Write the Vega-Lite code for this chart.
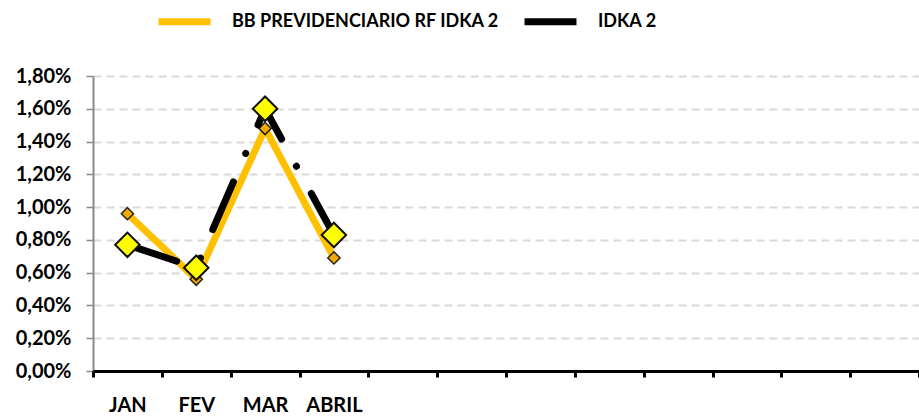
{
  "$schema": "https://vega.github.io/schema/vega-lite/v6.json",
  "autosize": "none",
  "width": 826,
  "height": 295,
  "padding": {"left": 93, "top": 76, "right": 0, "bottom": 46},
  "background": "white",
  "config": {
    "view": {"stroke": null},
    "font": "Lato",
    "legend": {
      "orient": "none",
      "legendX": 62,
      "legendY": -84,
      "direction": "horizontal",
      "title": null,
      "labelFont": "Lato",
      "labelFontSize": 18,
      "labelFontWeight": "bold",
      "labelColor": "black",
      "symbolType": "stroke",
      "symbolSize": 2700,
      "symbolStrokeWidth": 7,
      "labelLimit": 400,
      "columnPadding": 10,
      "labelOffset": 18
    }
  },
  "datasets": {
    "pts": [
      {"mes": "JAN", "serie": "BB PREVIDENCIARIO RF IDKA 2", "valor": 0.0096},
      {"mes": "FEV", "serie": "BB PREVIDENCIARIO RF IDKA 2", "valor": 0.0056},
      {"mes": "MAR", "serie": "BB PREVIDENCIARIO RF IDKA 2", "valor": 0.0148},
      {"mes": "ABRIL", "serie": "BB PREVIDENCIARIO RF IDKA 2", "valor": 0.0069},
      {"mes": "JAN", "serie": "IDKA 2", "valor": 0.0077},
      {"mes": "FEV", "serie": "IDKA 2", "valor": 0.0063},
      {"mes": "MAR", "serie": "IDKA 2", "valor": 0.0160},
      {"mes": "ABRIL", "serie": "IDKA 2", "valor": 0.0083}
    ]
  },
  "data": {"name": "pts"},
  "encoding": {
    "x": {
      "field": "mes",
      "type": "ordinal",
      "sort": null,
      "scale": {
        "type": "band",
        "domain": ["JAN", "FEV", "MAR", "ABRIL", "MAI", "JUN", "JUL", "AGO", "SET", "OUT", "NOV", "DEZ"],
        "paddingInner": 0,
        "paddingOuter": 0
      },
      "axis": {
        "title": null,
        "labelAngle": 0,
        "labelExpr": "indexof(['JAN','FEV','MAR','ABRIL'], datum.value) >= 0 ? datum.value : ''",
        "labelFont": "Lato",
        "labelFontSize": 20,
        "labelFontWeight": "bold",
        "labelColor": "black",
        "labelPadding": 18,
        "tickBand": "extent",
        "tickColor": "black",
        "tickWidth": 3,
        "tickSize": 6,
        "domainColor": "black",
        "domainWidth": 3,
        "grid": false,
        "zindex": 1
      }
    },
    "y": {
      "field": "valor",
      "type": "quantitative",
      "scale": {"domain": [0, 0.018], "nice": false, "zero": true},
      "axis": {
        "title": null,
        "values": [0, 0.002, 0.004, 0.006, 0.008, 0.01, 0.012, 0.014, 0.016, 0.018],
        "labelExpr": "replace(format(datum.value, '.2%'), '.', ',')",
        "labelFont": "Lato",
        "labelFontSize": 20,
        "labelFontWeight": "bold",
        "labelColor": "black",
        "labelPadding": 15,
        "tickColor": "#898989",
        "tickWidth": 1.5,
        "tickSize": 7,
        "domainColor": "#898989",
        "domainWidth": 2,
        "grid": true,
        "gridColor": "#d9d9d9",
        "gridWidth": 2,
        "gridDash": [8, 5]
      }
    }
  },
  "layer": [
    {
      "transform": [{"filter": "datum.serie === 'BB PREVIDENCIARIO RF IDKA 2'"}],
      "mark": {"type": "line", "strokeWidth": 7, "strokeJoin": "round"},
      "encoding": {
        "color": {
          "field": "serie",
          "type": "nominal",
          "scale": {"domain": ["BB PREVIDENCIARIO RF IDKA 2", "IDKA 2"], "range": ["#FFC000", "#000000"]}
        }
      }
    },
    {
      "transform": [{"filter": "datum.serie === 'BB PREVIDENCIARIO RF IDKA 2'"}],
      "mark": {"type": "point", "shape": "diamond", "size": 150, "filled": true, "fill": "#F2A900", "stroke": "#222222", "strokeWidth": 1.5, "opacity": 1}
    },
    {
      "transform": [{"filter": "datum.serie === 'IDKA 2'"}],
      "mark": {"type": "line", "strokeWidth": 7, "strokeCap": "round", "strokeDash": [52, 31, 0.1, 31]},
      "encoding": {
        "color": {
          "field": "serie",
          "type": "nominal",
          "scale": {"domain": ["BB PREVIDENCIARIO RF IDKA 2", "IDKA 2"], "range": ["#FFC000", "#000000"]}
        }
      }
    },
    {
      "transform": [{"filter": "datum.serie === 'IDKA 2'"}],
      "mark": {"type": "point", "shape": "diamond", "size": 600, "filled": true, "fill": "#FFFF00", "stroke": "#111111", "strokeWidth": 2, "opacity": 1}
    }
  ]
}
